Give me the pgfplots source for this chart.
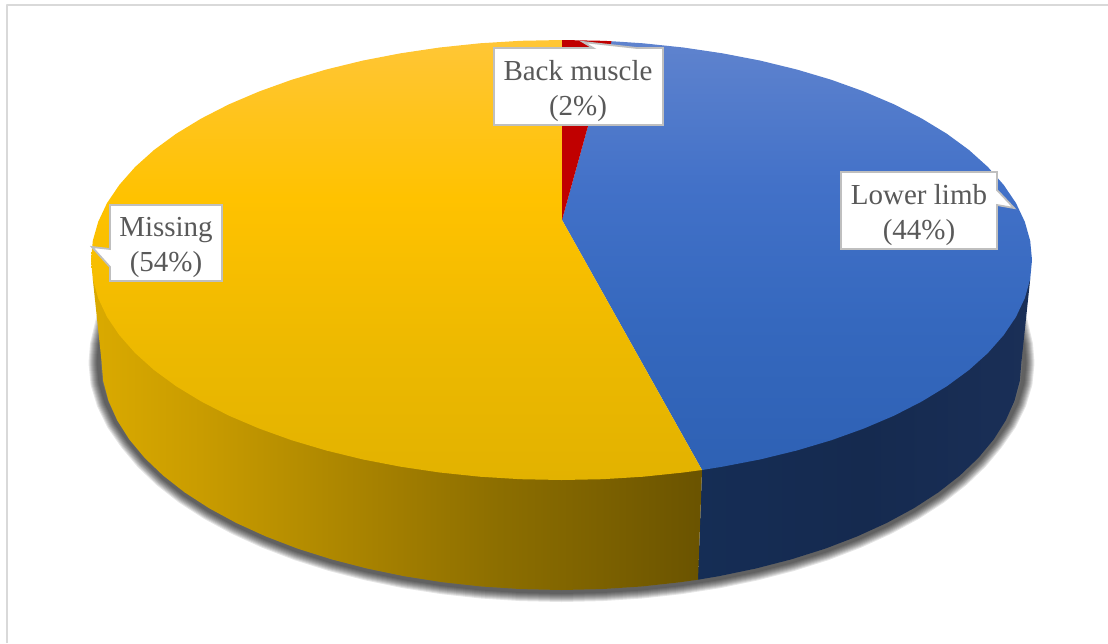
\documentclass[border=0pt]{standalone}
\usepackage{fontspec}
\setmainfont{Liberation Serif}
\usepackage{pgfplots}
\usepackage{pgfplotstable}
\pgfplotsset{compat=1.18}

% Colour ramps of the three top faces and the two visible walls
\definecolor{labelgrey}{HTML}{595959}
\definecolor{calloutedge}{HTML}{BFBFBF}
\definecolor{frameedge}{HTML}{D9D9D9}
\definecolor{yA}{HTML}{FFC636}\definecolor{yB}{HTML}{FFC200}\definecolor{yC}{HTML}{EDB900}\definecolor{yD}{HTML}{E2B200}
\definecolor{bA}{HTML}{5F83CE}\definecolor{bB}{HTML}{4271C8}\definecolor{bC}{HTML}{3568BE}\definecolor{bD}{HTML}{2E61B4}
\definecolor{wa}{HTML}{D9A900}\definecolor{wb}{HTML}{C99C00}\definecolor{wc}{HTML}{B58D00}\definecolor{wd}{HTML}{A17D00}
\definecolor{we}{HTML}{8C6E00}\definecolor{wf}{HTML}{7C6100}\definecolor{wg}{HTML}{6B5400}
\definecolor{na}{HTML}{152D55}\definecolor{nb}{HTML}{152A4F}\definecolor{nc}{HTML}{1A2F57}

\pgfdeclareverticalshading{yellowtop}{100bp}{
  color(0bp)=(yD); color(25bp)=(yD); color(40bp)=(yC); color(57bp)=(yB); color(75bp)=(yA); color(100bp)=(yA)}
\pgfdeclareverticalshading{bluetop}{100bp}{
  color(0bp)=(bD); color(25bp)=(bD); color(42bp)=(bC); color(58bp)=(bB); color(75bp)=(bA); color(100bp)=(bA)}
\pgfdeclarehorizontalshading{yellowwall}{100bp}{
  color(0bp)=(wa); color(25.6bp)=(wa); color(33.8bp)=(wb); color(42bp)=(wc); color(50.2bp)=(wd);
  color(58.4bp)=(we); color(66.6bp)=(wf); color(74.6bp)=(wg); color(100bp)=(wg)}
\pgfdeclarehorizontalshading{bluewall}{100bp}{
  color(0bp)=(na); color(25bp)=(na); color(50bp)=(nb); color(75bp)=(nc); color(100bp)=(nc)}

% Outer rim of the base, used for the soft shadow under the disc
\pgfplotstableread{
x y
107 315
100 345
98.5 363
100.5 383
106.5 402.8
116 422.3
129.2 441.3
144.6 459.8
163.1 477.5
184.7 494.4
209.1 510.2
236.2 524.9
265.8 538.4
297.6 550.6
331.5 561.3
367.1 570.5
404.2 578.2
442.5 584.2
481.6 588.5
521.4 591.1
561.5 592
601.6 591.1
641.4 588.5
680.5 584.2
718.8 578.2
755.9 570.5
791.5 561.3
825.4 550.6
857.2 538.4
886.8 524.9
913.9 510.2
938.3 494.4
959.9 477.5
978.4 459.8
993.8 441.3
1007 422.3
1016.5 402.8
1022.5 383
1024.5 363
1023 345
1016 315
}\rimtable

\begin{document}
\begin{tikzpicture}
\useasboundingbox (0,0) rectangle (1108pt,643pt);
\begin{axis}[
  at={(0,0)}, anchor=south west,
  scale only axis, width=1108pt, height=643pt,
  xmin=0, xmax=1108, ymin=0, ymax=643, y dir=reverse,
  hide axis, clip=true,
  line join=round,
]
% chart frame: left and top edges
\addplot[draw=frameedge, line width=2.2pt, line cap=butt] coordinates {(7,643) (7,5) (1108,5)};

% soft shadow, built from stacked translucent strokes
\pgfplotsinvokeforeach{20,18,16,14,12,10,8,6,4}{
  \addplot[draw=black, opacity=0.1, line width=#1pt, line cap=round] table {\rimtable};
}

% wall of the blue slice
\addplot[draw=none, shade, shading=bluewall] coordinates {
(702,470) (1030.2,279.2) (1021.5,361) (1019.8,381) (1014.5,400.8) (1005.8,420.3) (993.8,439.3)
(978.4,457.8) (959.9,475.5) (938.3,492.4) (913.9,508.2) (886.8,522.9) (857.2,536.4) (825.4,548.6)
(791.5,559.3) (755.9,568.5) (718.8,576.2) (698,579.7)} -- cycle;

% wall of the yellow slice
\addplot[draw=none, shade, shading=yellowwall] coordinates {
(702,470) (698,579.7) (680.5,582.2) (641.4,586.5) (601.6,589.1) (561.5,590) (521.4,589.1) (481.6,586.5)
(442.5,582.2) (404.2,576.2) (367.1,568.5) (331.5,559.3) (297.6,548.6) (265.8,536.4) (236.2,522.9)
(209.1,508.2) (184.7,492.4) (163.1,475.5) (144.6,457.8) (129.2,439.3) (117.2,420.3) (108.5,400.8)
(103.2,381) (101.5,361) (92.8,279.2)} -- cycle;

% Lower limb, 44%
\addplot[draw=none, shade, shading=bluetop] coordinates {
(562,220) (611.5,41.2) (643.2,43.3) (683.3,47.5) (722.4,53.3) (760.3,60.6) (796.75,69.5) (831.4,79.8)
(863.9,91.5) (894.2,104.4) (921.9,118.6) (946.9,133.8) (969,150) (987.9,167) (1003.6,184.8) (1016,203.1)
(1024.8,221.8) (1030.2,240.8) (1032,260) (1030.2,279.2) (1024.8,298.2) (1016,316.9) (1003.6,335.2)
(987.9,353) (969,370) (946.9,386.2) (921.9,401.4) (894.2,415.6) (863.9,428.5) (831.4,440.2)
(796.75,450.5) (760.3,459.4) (722.4,466.7) (702,470)} -- cycle;

% Missing, 54%
\addplot[draw=none, shade, shading=yellowtop] coordinates {
(562,220) (702,470) (683.3,472.5) (643.2,476.7) (602.5,479.2) (561.5,480) (520.5,479.2) (479.8,476.7)
(439.7,472.5) (400.6,466.7) (362.7,459.4) (326.25,450.5) (291.6,440.2) (259.1,428.5) (228.8,415.6)
(201.1,401.4) (176.1,386.2) (154,370) (135.1,353) (119.4,335.2) (107,316.9) (98.2,298.2) (92.8,279.2)
(91,260) (92.8,240.8) (98.2,221.8) (107,203.1) (119.4,184.8) (135.1,167) (154,150) (176.1,133.8)
(201.1,118.6) (228.8,104.4) (259.1,91.5) (291.6,79.8) (326.25,69.5) (362.7,60.6) (400.6,53.3)
(439.7,47.5) (479.8,43.3) (520.5,40.8) (561.5,40) (562,40)} -- cycle;

% Back muscle, 2%
\addplot[draw=none, fill={rgb,255:red,192;green,0;blue,0}] coordinates {
(562,220) (562,40) (602.5,40.8) (611.5,41.2)} -- cycle;

% callouts
\addplot[draw=calloutedge, fill=white, line width=1.8pt, line join=miter] coordinates {
(494,48) (593,48) (583,42) (637,48) (663,48) (663,125) (494,125)} -- cycle;
\addplot[draw=calloutedge, fill=white, line width=1.8pt, line join=miter] coordinates {
(841,172) (997,172) (997,190) (1014,208) (997,205) (997,249) (841,249)} -- cycle;
\addplot[draw=calloutedge, fill=white, line width=1.8pt, line join=miter] coordinates {
(110,205) (222,205) (222,281) (110,281) (110,267) (92,247) (110,249)} -- cycle;

\node[text=labelgrey, align=center, inner sep=0pt, font=\fontsize{29}{35}\selectfont] at (axis cs:578,91) {Back muscle\\(2\%)};
\node[text=labelgrey, align=center, inner sep=0pt, font=\fontsize{29}{35}\selectfont] at (axis cs:919,215.5) {Lower limb\\(44\%)};
\node[text=labelgrey, align=center, inner sep=0pt, font=\fontsize{29}{35}\selectfont] at (axis cs:166,247.5) {Missing\\(54\%)};
\end{axis}
\end{tikzpicture}
\end{document}
